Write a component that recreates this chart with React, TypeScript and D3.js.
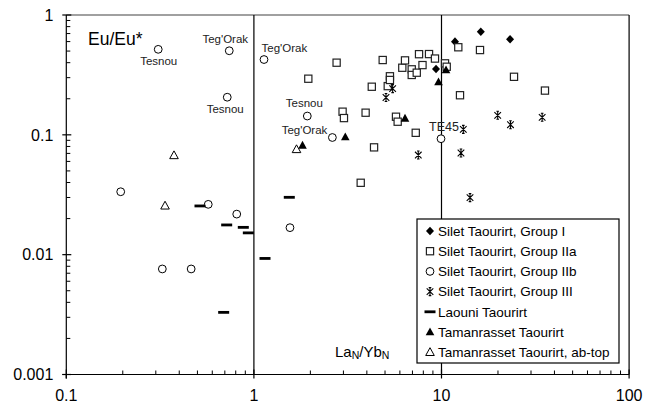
import React from "react";
import * as d3 from "d3";

// ---- Data (La_N/Yb_N, Eu/Eu*) ----
const groupI: [number, number][] = [[9.35, 0.354], [11.8, 0.599], [16.2, 0.725], [23.2, 0.627]];
const groupIIa: [number, number][] = [
  [1.95, 0.294], [2.76, 0.40], [2.97, 0.156], [3.02, 0.138], [3.94, 0.153], [3.71, 0.0398],
  [4.37, 0.0786], [4.25, 0.252], [4.86, 0.421], [5.17, 0.255], [5.31, 0.308], [5.31, 0.287],
  [5.72, 0.1416], [5.84, 0.1287], [6.18, 0.363], [6.39, 0.418], [6.94, 0.352], [6.94, 0.316],
  [7.38, 0.33], [7.29, 0.104], [7.92, 0.382], [7.59, 0.471], [8.58, 0.472], [9.23, 0.433],
  [10.44, 0.395], [10.66, 0.37], [12.29, 0.538], [16.04, 0.51], [12.55, 0.214], [24.35, 0.305],
  [35.6, 0.234],
];
const groupIIb: [number, number][] = [
  [0.309, 0.517], [0.739, 0.503], [0.721, 0.206], [1.132, 0.425], [1.926, 0.1435], [2.62, 0.095],
  [9.94, 0.0928], [0.195, 0.0335], [0.571, 0.0263], [0.81, 0.0218], [1.557, 0.0168],
  [0.325, 0.0076], [0.463, 0.0076],
];
const groupIII: [number, number][] = [
  [5.49, 0.243], [5.06, 0.205], [7.52, 0.0678], [13.07, 0.111], [12.7, 0.0705], [14.19, 0.0299],
  [19.93, 0.1455], [23.32, 0.1215], [34.4, 0.14],
];
const laouni: [number, number][] = [
  [0.516, 0.0255], [0.716, 0.0177], [0.878, 0.0169], [0.934, 0.0152], [1.146, 0.0093],
  [0.69, 0.0033], [1.544, 0.0301],
];
const tamanrasset: [number, number][] = [[1.816, 0.0817], [3.07, 0.0959], [6.39, 0.1373], [9.64, 0.276], [10.57, 0.3475]];
const tamanrassetAbTop: [number, number][] = [[1.687, 0.0757], [0.375, 0.0674], [0.336, 0.0256]];

const xTickValues = [0.1, 1, 10, 100];
const xTickLabels = ["0.1", "1", "10", "100"];
const yTickValues = [0.001, 0.01, 0.1, 1];
const yTickLabels = ["0.001", "0.01", "0.1", "1"];
const dividerValues = [1, 10];

const seriesNames = [
  "Silet Taourirt, Group I",
  "Silet Taourirt, Group IIa",
  "Silet Taourirt, Group IIb",
  "Silet Taourirt, Group III",
  "Laouni Taourirt",
  "Tamanrasset Taourirt",
  "Tamanrasset Taourirt, ab-top",
];

// annotations: label text and index of the Group IIb point it names
const annotationTexts = ["Tesnou", "Teg'Orak", "Tesnou", "Teg'Orak", "Tesnou", "Teg'Orak", "TE45"];
const annotationPoint = [0, 1, 2, 3, 4, 5, 6];

// ---- layout ----
const W = 645, H = 410;
const X0 = 66.3, X1 = 629.1, Y0 = 374.5, Y1 = 15;
const FONT = "'Liberation Sans', Arial, Helvetica, sans-serif";
const annotationLayout: { dx: number; dy: number; anchor: string }[] = [
  { dx: 0.5, dy: 16, anchor: "middle" },
  { dx: -4, dy: -8, anchor: "middle" },
  { dx: -2, dy: 15.5, anchor: "middle" },
  { dx: -2.5, dy: -8, anchor: "start" },
  { dx: -3, dy: -8.7, anchor: "middle" },
  { dx: -5, dy: -3.5, anchor: "end" },
  { dx: 3, dy: -8, anchor: "middle" },
];

type Kind = "diamond" | "square" | "circle" | "star" | "dash" | "triFill" | "triOpen";
const kinds: Kind[] = ["diamond", "square", "circle", "star", "dash", "triFill", "triOpen"];
const allSeries = [groupI, groupIIa, groupIIb, groupIII, laouni, tamanrasset, tamanrassetAbTop];

function Marker({ kind, x, y }: { kind: Kind; x: number; y: number }) {
  switch (kind) {
    case "diamond":
      return <path d={`M${x},${y - 4.3}L${x + 4},${y}L${x},${y + 4.3}L${x - 4},${y}Z`} fill="#000" />;
    case "square":
      return <rect x={x - 3.6} y={y - 3.6} width={7.2} height={7.2} fill="#fff" stroke="#222" strokeWidth={1.2} />;
    case "circle":
      return <circle cx={x} cy={y} r={3.9} fill="#fff" stroke="#000" strokeWidth={1} />;
    case "star":
      return (
        <path
          d={`M${x - 3.3},${y - 3.3}L${x + 3.3},${y + 3.3}M${x + 3.3},${y - 3.3}L${x - 3.3},${y + 3.3}M${x},${y - 4}L${x},${y + 4}M${x - 1.3},${y - 4}L${x + 1.3},${y - 4}M${x - 1.3},${y + 4}L${x + 1.3},${y + 4}`}
          stroke="#000"
          strokeWidth={1.1}
          fill="none"
        />
      );
    case "dash":
      return <rect x={x - 5.5} y={y - 1.4} width={11} height={2.8} fill="#000" />;
    case "triFill":
      return <path d={`M${x},${y - 4.5}L${x + 4.3},${y + 3.3}L${x - 4.3},${y + 3.3}Z`} fill="#000" />;
    case "triOpen":
      return <path d={`M${x},${y - 4.5}L${x + 4.3},${y + 3.3}L${x - 4.3},${y + 3.3}Z`} fill="#fff" stroke="#000" strokeWidth={1} />;
  }
}

export default function App() {
  const x = d3.scaleLog().domain([0.1, 100]).range([X0, X1]);
  const y = d3.scaleLog().domain([0.001, 1]).range([Y0, Y1]);

  const xMinor: number[] = [];
  const yMinor: number[] = [];
  for (const dec of [0.1, 1, 10]) for (let k = 2; k <= 9; k++) xMinor.push(dec * k);
  for (const dec of [0.001, 0.01, 0.1]) for (let k = 2; k <= 9; k++) yMinor.push(dec * k);

  const legX = 417, legY = 219, legW = 202, legH = 144, rowH = 20.2;

  return (
    <svg width={W} height={H} style={{ position: "absolute", left: 0, top: 0, background: "#fff" }} fontFamily={FONT}>
      <rect x={0} y={0} width={W} height={H} fill="#fff" />
      {/* frame */}
      <line x1={X0} x2={X1} y1={Y1} y2={Y1} stroke="#808080" strokeWidth={1.3} />
      <line x1={X1} x2={X1} y1={Y1} y2={Y0} stroke="#000" strokeWidth={1.2} />
      {dividerValues.map((v) => (
        <line key={v} x1={x(v)} x2={x(v)} y1={Y1} y2={Y0} stroke="#000" strokeWidth={1.2} />
      ))}
      {/* axes */}
      <line x1={X0} x2={X0} y1={Y1} y2={Y0 + 4} stroke="#000" strokeWidth={1.2} />
      <line x1={X0 - 4} x2={X1} y1={Y0} y2={Y0} stroke="#000" strokeWidth={1.2} />
      {yMinor.map((v) => (
        <line key={"ym" + v} x1={X0} x2={X0 + 4} y1={y(v)} y2={y(v)} stroke="#000" strokeWidth={1} />
      ))}
      {yTickValues.map((v) => (
        <line key={"yM" + v} x1={X0 - 4} x2={X0 + 5} y1={y(v)} y2={y(v)} stroke="#000" strokeWidth={1.2} />
      ))}
      {xMinor.map((v) => (
        <line key={"xm" + v} x1={x(v)} x2={x(v)} y1={Y0} y2={Y0 - 4} stroke="#000" strokeWidth={1} />
      ))}
      {xTickValues.map((v) => (
        <line key={"xM" + v} x1={x(v)} x2={x(v)} y1={Y0 + 4} y2={Y0 - 5} stroke="#000" strokeWidth={1.2} />
      ))}
      {yTickValues.map((v, i) => (
        <text key={"yl" + v} x={X0 - 13} y={y(v)} dy="0.36em" textAnchor="end" fontSize={16} fill="#000">
          {yTickLabels[i]}
        </text>
      ))}
      {xTickValues.map((v, i) => (
        <text key={"xl" + v} x={x(v)} y={401} textAnchor="middle" fontSize={16} fill="#000">
          {xTickLabels[i]}
        </text>
      ))}
      {/* axis titles */}
      <text x={88} y={44.5} fontSize={17.5} fill="#000">Eu/Eu*</text>
      <text x={335} y={357} fontSize={15} fill="#000">
        La<tspan fontSize={10.5} dy={2}>N</tspan>
        <tspan dy={-2}>/Yb</tspan>
        <tspan fontSize={10.5} dy={2}>N</tspan>
      </text>
      {/* points */}
      {allSeries.map((s, si) =>
        s.map((p, pi) => <Marker key={si + "-" + pi} kind={kinds[si]} x={x(p[0])} y={y(p[1])} />)
      )}
      {/* annotations */}
      {annotationTexts.map((t, i) => {
        const p = groupIIb[annotationPoint[i]];
        const l = annotationLayout[i];
        return (
          <text key={"a" + i} x={x(p[0]) + l.dx} y={y(p[1]) + l.dy} textAnchor={l.anchor} fontSize={t === "TE45" ? 12.5 : 11.5} fill="#222">
            {t}
          </text>
        );
      })}
      {/* legend */}
      <rect x={legX} y={legY} width={legW} height={legH} fill="#fff" stroke="#000" strokeWidth={1.2} />
      {seriesNames.map((n, i) => {
        const cy = legY + 12 + i * rowH;
        return (
          <g key={n}>
            <Marker kind={kinds[i]} x={430} y={cy} />
            <text x={438} y={cy} dy="0.36em" fontSize={13.5} fill="#000">
              {n}
            </text>
          </g>
        );
      })}
    </svg>
  );
}
